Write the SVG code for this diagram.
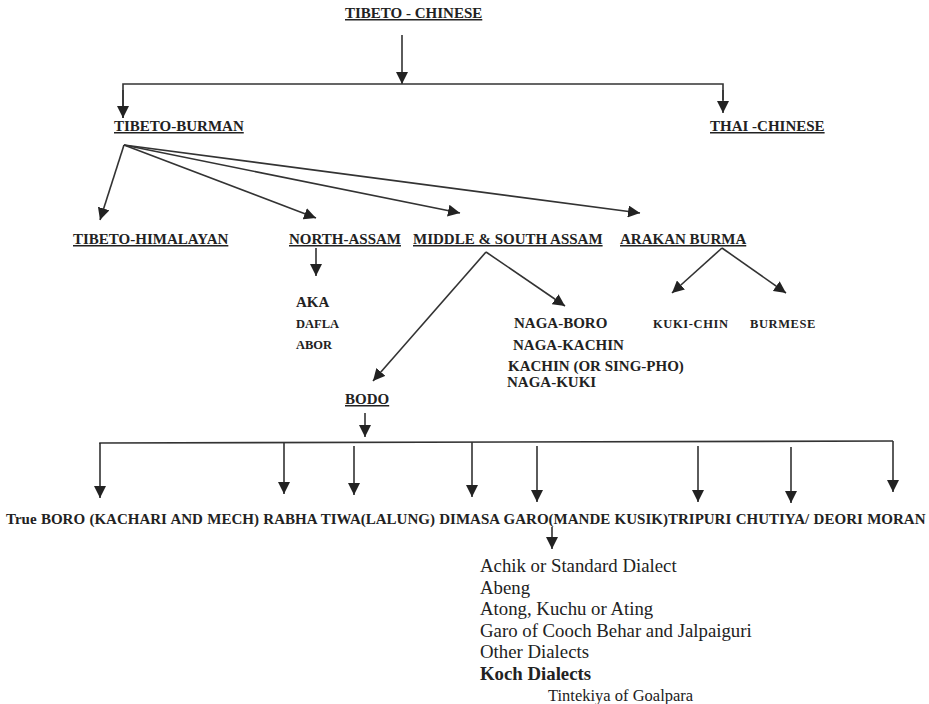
<svg xmlns="http://www.w3.org/2000/svg" width="929" height="704" viewBox="0 0 929 704">
<defs>
<marker id="ah" markerUnits="userSpaceOnUse" markerWidth="12" markerHeight="12" viewBox="0 0 12 12" refX="12" refY="6" orient="auto">
<path d="M0,0 L12,6 L0,12 Z" fill="#222"/>
</marker>
</defs>
<style>
.h{font-size:15px;font-weight:bold;text-decoration:underline}
.b{font-size:15px;font-weight:bold}
.s{font-size:12.5px;font-weight:bold}
.sw{font-size:12.5px;font-weight:bold;letter-spacing:0.6px}
.r{font-size:18.8px}
.ln{stroke:#333;stroke-width:1.6;fill:none}
.ar{stroke:#333;stroke-width:1.6;fill:none;marker-end:url(#ah)}
</style>
<rect width="929" height="704" fill="#fff"/>
<g id="connectors">
<line class="ar" x1="402" y1="35" x2="402" y2="84"/>
<polyline class="ln" points="123,118 123,84 723,84 723,100"/>
<line class="ar" x1="123" y1="90" x2="123" y2="118"/>
<line class="ar" x1="723" y1="90" x2="723" y2="113"/>
<line class="ar" x1="124" y1="145" x2="100" y2="220"/>
<line class="ar" x1="124" y1="145" x2="316" y2="218"/>
<line class="ar" x1="124" y1="145" x2="460" y2="213"/>
<line class="ar" x1="124" y1="145" x2="640" y2="213"/>
<line class="ar" x1="316" y1="248" x2="316" y2="276"/>
<line class="ar" x1="486" y1="252" x2="565" y2="306"/>
<line class="ar" x1="486" y1="252" x2="373" y2="381"/>
<line class="ar" x1="722" y1="248" x2="672" y2="293"/>
<line class="ar" x1="722" y1="248" x2="786" y2="293"/>
<line class="ar" x1="365" y1="413" x2="365" y2="437"/>
<polyline class="ln" points="100,444 100,443 893,441"/>
<line class="ar" x1="100" y1="443" x2="100" y2="498"/>
<line class="ar" x1="284" y1="443" x2="284" y2="494"/>
<line class="ar" x1="354" y1="446" x2="354" y2="495"/>
<line class="ar" x1="472" y1="442" x2="472" y2="497"/>
<line class="ar" x1="537" y1="446" x2="537" y2="502"/>
<line class="ar" x1="698" y1="446" x2="698" y2="502"/>
<line class="ar" x1="791" y1="447" x2="791" y2="503"/>
<line class="ar" x1="893" y1="441" x2="893" y2="492"/>
<line class="ar" x1="552" y1="527" x2="552" y2="549"/>
</g>
<g font-family="'Liberation Serif', 'Times New Roman', serif" fill="#222">
<g id="tibeto-chinese"><text class="h" x="345" y="18">TIBETO - CHINESE</text></g>
<g id="tibeto-burman"><text class="h" x="114" y="131">TIBETO-BURMAN</text></g>
<g id="thai-chinese"><text class="h" x="710" y="131">THAI -CHINESE</text></g>
<g id="tibeto-himalayan"><text class="h" x="73" y="244">TIBETO-HIMALAYAN</text></g>
<g id="north-assam"><text class="h" x="289" y="244">NORTH-ASSAM</text></g>
<g id="middle-south-assam"><text class="h" x="413" y="244">MIDDLE &amp; SOUTH ASSAM</text></g>
<g id="arakan-burma"><text class="h" x="620" y="244">ARAKAN BURMA</text></g>
<g id="north-assam-list">
<text class="b" x="296" y="307">AKA</text>
<text class="s" x="296" y="328">DAFLA</text>
<text class="s" x="296" y="349">ABOR</text>
</g>
<g id="naga-list">
<text class="b" x="514" y="328">NAGA-BORO</text>
<text class="b" x="513" y="350">NAGA-KACHIN</text>
<text class="b" x="508" y="371">KACHIN (OR SING-PHO)</text>
<text class="b" x="507" y="387">NAGA-KUKI</text>
</g>
<g id="kuki-chin"><text class="sw" x="653" y="328">KUKI-CHIN</text></g>
<g id="burmese"><text class="sw" x="750" y="328">BURMESE</text></g>
<g id="bodo"><text class="h" x="345" y="404">BODO</text></g>
<g id="bodo-languages"><text class="b" x="6" y="524" word-spacing="0.6">True BORO (KACHARI AND MECH) RABHA TIWA(LALUNG) DIMASA GARO(MANDE KUSIK)TRIPURI CHUTIYA/ DEORI MORAN</text></g>
<g id="garo-dialects">
<text class="r" x="480" y="572">Achik or Standard Dialect</text>
<text class="r" x="480" y="594">Abeng</text>
<text class="r" x="480" y="615">Atong, Kuchu or Ating</text>
<text class="r" x="480" y="637">Garo of Cooch Behar and Jalpaiguri</text>
<text class="r" x="480" y="658">Other Dialects</text>
<text class="r" x="480" y="680" font-weight="bold">Koch Dialects</text>
<text x="548" y="701" font-size="16.5">Tintekiya of Goalpara</text>
</g>
</g>
</svg>
